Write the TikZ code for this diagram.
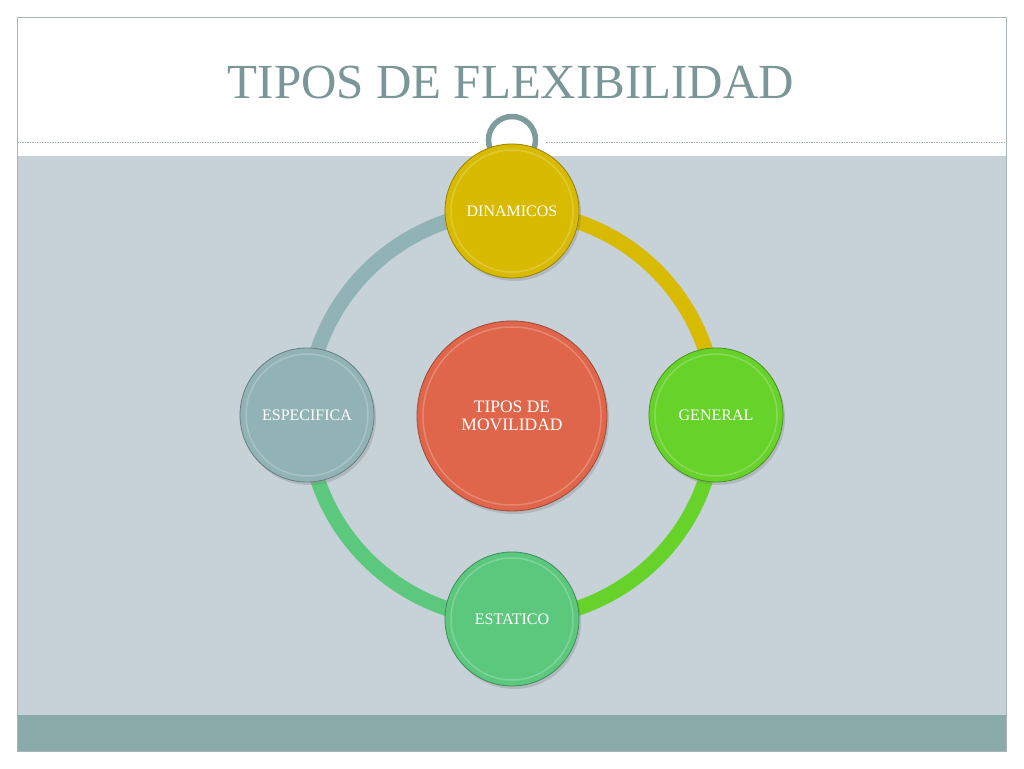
\documentclass[tikz,border=0pt]{standalone}
\usepackage{fontspec}
\setmainfont{Liberation Serif}
\usetikzlibrary{shadows}

\definecolor{graybg}{HTML}{C6D1D8}
\definecolor{tealband}{HTML}{8AABAA}
\definecolor{frameline}{HTML}{A7B5B7}
\definecolor{titlecol}{HTML}{7A9696}
\definecolor{loopcol}{HTML}{7D9C9C}
\definecolor{dinc}{HTML}{D8BA00}
\definecolor{genc}{HTML}{66D22A}
\definecolor{estc}{HTML}{5BC87D}
\definecolor{espc}{HTML}{92B3B5}
\definecolor{cenc}{HTML}{E0664B}

\pgfdeclarelayer{back}
\pgfdeclarelayer{ring}
\pgfsetlayers{back,ring,main}

\begin{document}
\begin{tikzpicture}[x=1pt,y=1pt,
    ball/.style 2 args={circle,minimum size=#2,inner sep=0pt,text=white,
      font=\fontsize{16}{18}\selectfont,fill=#1,draw=#1!70!black,line width=.8pt,
      drop shadow={opacity=.3,shadow xshift=2pt,shadow yshift=-3pt},
      path picture={\draw[white,opacity=.22,line width=1.5pt]
        (path picture bounding box.center) circle ({#2/2-6pt});}},
    ringarc/.style={#1,line width=15pt}]
  \begin{pgfonlayer}{back}
    \fill[white] (0,0) rectangle (1024,768);
    \fill[graybg] (17,53) rectangle (1006,612);
    \fill[tealband] (17,17) rectangle (1006,53);
    \draw[frameline,line width=.8pt] (17,17) rectangle (1006,751);
    \draw[frameline,line width=1pt,dash pattern=on 1.5pt off 1pt]
      (17,625) -- (478,625) (546,625) -- (1006,625);
    \draw[loopcol,line width=5.5pt] (512,628) circle (23.5);
  \end{pgfonlayer}
  \node[text=titlecol,anchor=base,font=\fontsize{49}{49}\selectfont] (title) at (511,669)
    {TIPOS DE FLEXIBILIDAD};

  \node[ball={dinc}{134pt}] (din) at (512,557) {DINAMICOS};
  \node[ball={genc}{134pt}] (gen) at (716,353) {GENERAL};
  \node[ball={estc}{134pt}] (est) at (512,149) {ESTATICO};
  \node[ball={espc}{134pt}] (esp) at (307,353) {ESPECIFICA};
  \node[ball={cenc}{190pt},align=center,font=\fontsize{17.5}{18}\selectfont] (cen) at (512,352)
    {TIPOS DE\\MOVILIDAD};

  \begin{pgfonlayer}{ring}
    \foreach \a/\b/\c in {din/gen/dinc,gen/est/genc,est/esp/estc,esp/din/espc}
      \draw[ringarc=\c] (\a.center) to[bend left=45] (\b.center);
  \end{pgfonlayer}
\end{tikzpicture}
\end{document}
